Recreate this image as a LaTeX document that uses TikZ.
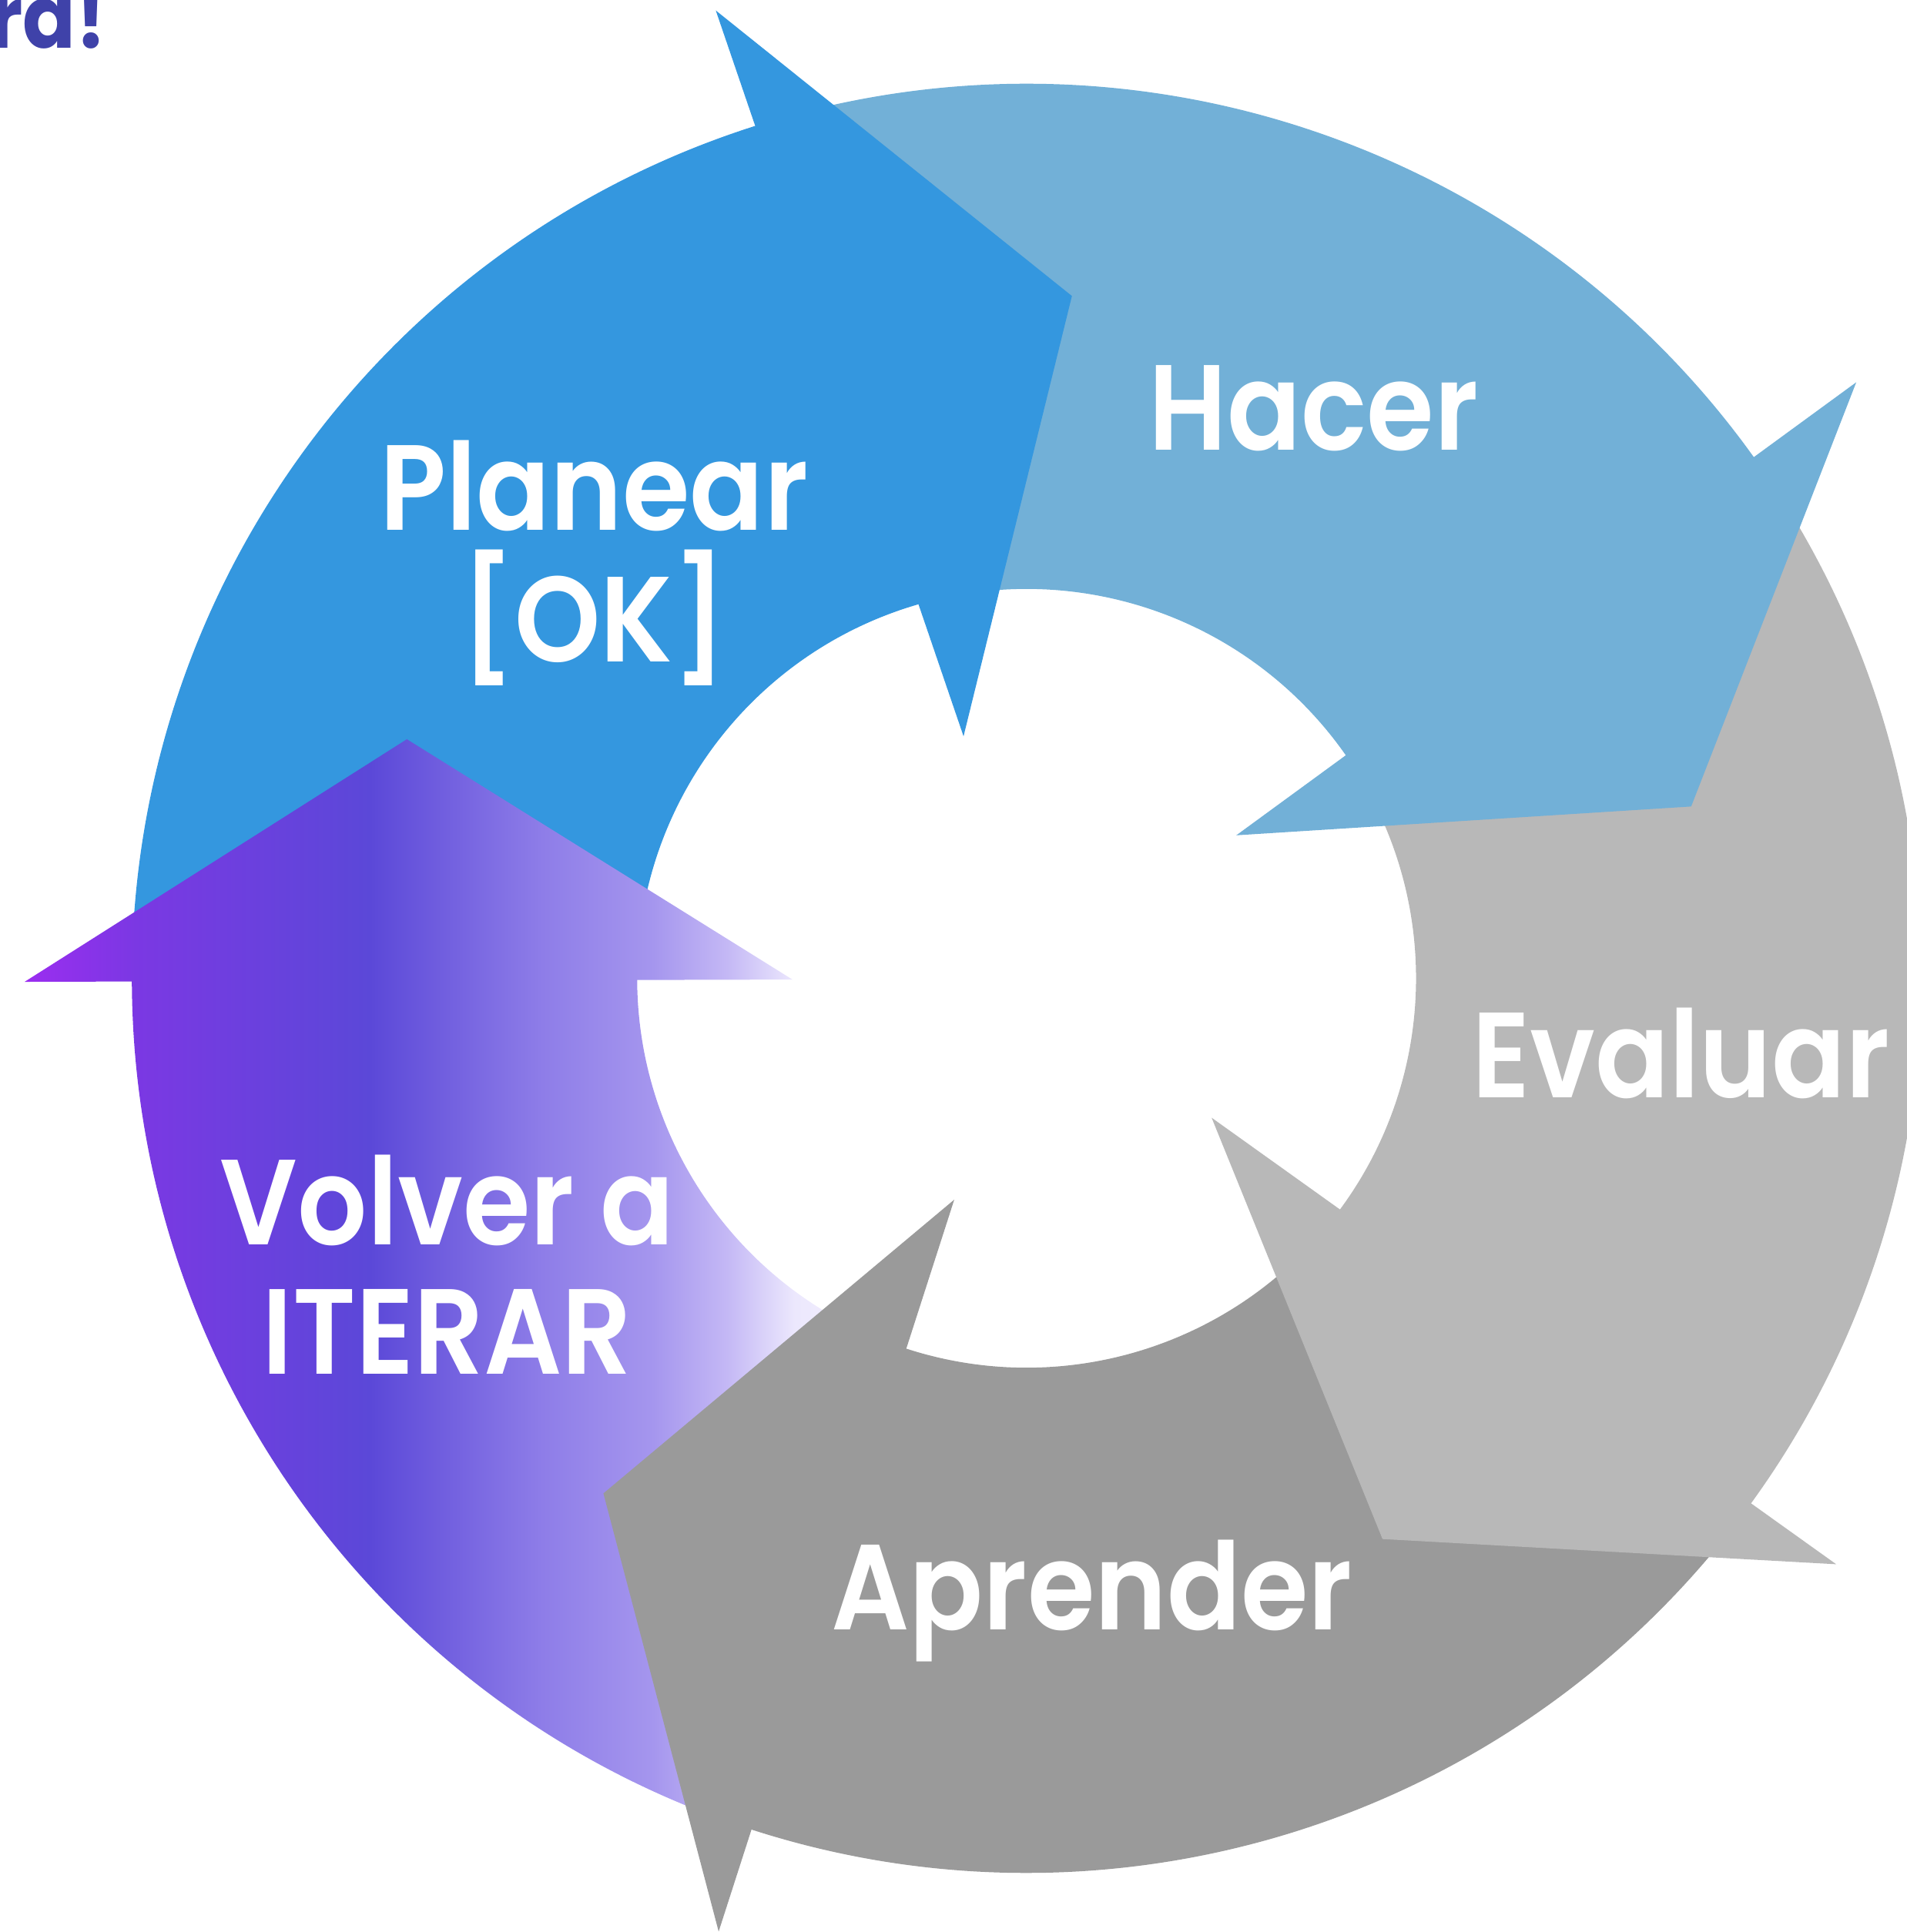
\documentclass[tikz,border=0pt]{standalone}
\usepackage{fontspec}
\setmainfont{Poppins}[FakeStretch=0.9]
\newfontfamily\rotulo{Poppins SemiBold}[FakeStretch=0.9]
\usetikzlibrary{positioning}

\definecolor{planear}{HTML}{3497DF}
\definecolor{hacer}{HTML}{72B0D7}
\definecolor{evaluar}{HTML}{B8B8B8}
\definecolor{aprender}{HTML}{9A9A9A}
\definecolor{titulo}{HTML}{3F42A9}
\definecolor{volverA}{HTML}{9B2DF0}
\definecolor{volverB}{HTML}{7B38E3}
\definecolor{volverC}{HTML}{5B48D8}
\definecolor{volverD}{HTML}{8E7DE8}
\definecolor{volverE}{HTML}{A596EE}
\definecolor{volverF}{HTML}{C4B8F5}
\definecolor{volverG}{HTML}{ECE8FD}
\definecolor{volverH}{HTML}{F6F3FF}

\pgfdeclarehorizontalshading{volver}{100bp}{color(0bp)=(volverA);
  color(25bp)=(volverA); color(31.25bp)=(volverB); color(44.44bp)=(volverC);
  color(54.17bp)=(volverD); color(60.42bp)=(volverE); color(64.58bp)=(volverF);
  color(68.4bp)=(volverG); color(75bp)=(volverH); color(100bp)=(volverH)}

\newcommand{\anillo}[2]{(#1:7.26) arc[start angle=#1, end angle=#2, radius=7.26]
  -- (#2:3.16) arc[start angle=#2, end angle=#1, radius=3.16] -- cycle}

\begin{document}
\begin{tikzpicture}[etiqueta/.style={text=white, anchor=base,
    font=\fontsize{28}{34}\rotulo}]

  \useasboundingbox (-8.33,-7.74) rectangle (7.14,7.94);

  \node [anchor=base east, inner sep=0pt, text=titulo,
         font=\fontsize{20}{24}\selectfont\bfseries] (titulo) at (-7.46,7.55) {ra!};

  % cuerpos
  \fill [planear] \anillo{178}{105};
  \fill [hacer] \anillo{105}{33};
  \fill [evaluar] \anillo{33}{-38};
  \fill [aprender] \anillo{-38}{-110};

  \begin{scope}
    \clip \anillo{250}{178};
    \shade [shading=volver] (-8.13,-7.5) rectangle (-0.93,2.5);
  \end{scope}
  \begin{scope}
    \clip (180.2:8.13) -- (158.9:5.39) -- (180.3:1.90) -- cycle;
    \shade [shading=volver] (-8.13,-7.5) rectangle (-0.93,2.5);
  \end{scope}

  % puntas
  \fill [planear] (107.8:8.25) -- (86.2:5.55) -- (104.6:2.03) -- cycle;
  \fill [hacer] (35.7:8.29) -- (14.5:5.57) -- (34.3:2.06) -- cycle;
  \fill [evaluar] (-35.9:8.11) -- (-57.6:5.39) -- (-37:1.88) -- cycle;
  \fill [aprender] (-107.9:8.13) -- (-129.4:5.41) -- (-108.1:1.89) -- cycle;

  \node [etiqueta] (planearTxt) at (-3.51,3.64) {Planear};
  \node [below=1.07cm of planearTxt.base, etiqueta] (okTxt) {[OK]};

  \node [etiqueta] (hacerTxt) at (2.33,4.29) {Hacer};
  \node [etiqueta] (evaluarTxt) at (5.31,-0.97) {Evaluar};
  \node [etiqueta] (aprenderTxt) at (0.53,-5.29) {Aprender};

  \node [etiqueta] (volverTxt) at (-4.70,-2.16) {Volver a};
  \node [below=1.05cm of volverTxt.base, etiqueta] (iterarTxt) {ITERAR};

\end{tikzpicture}
\end{document}
